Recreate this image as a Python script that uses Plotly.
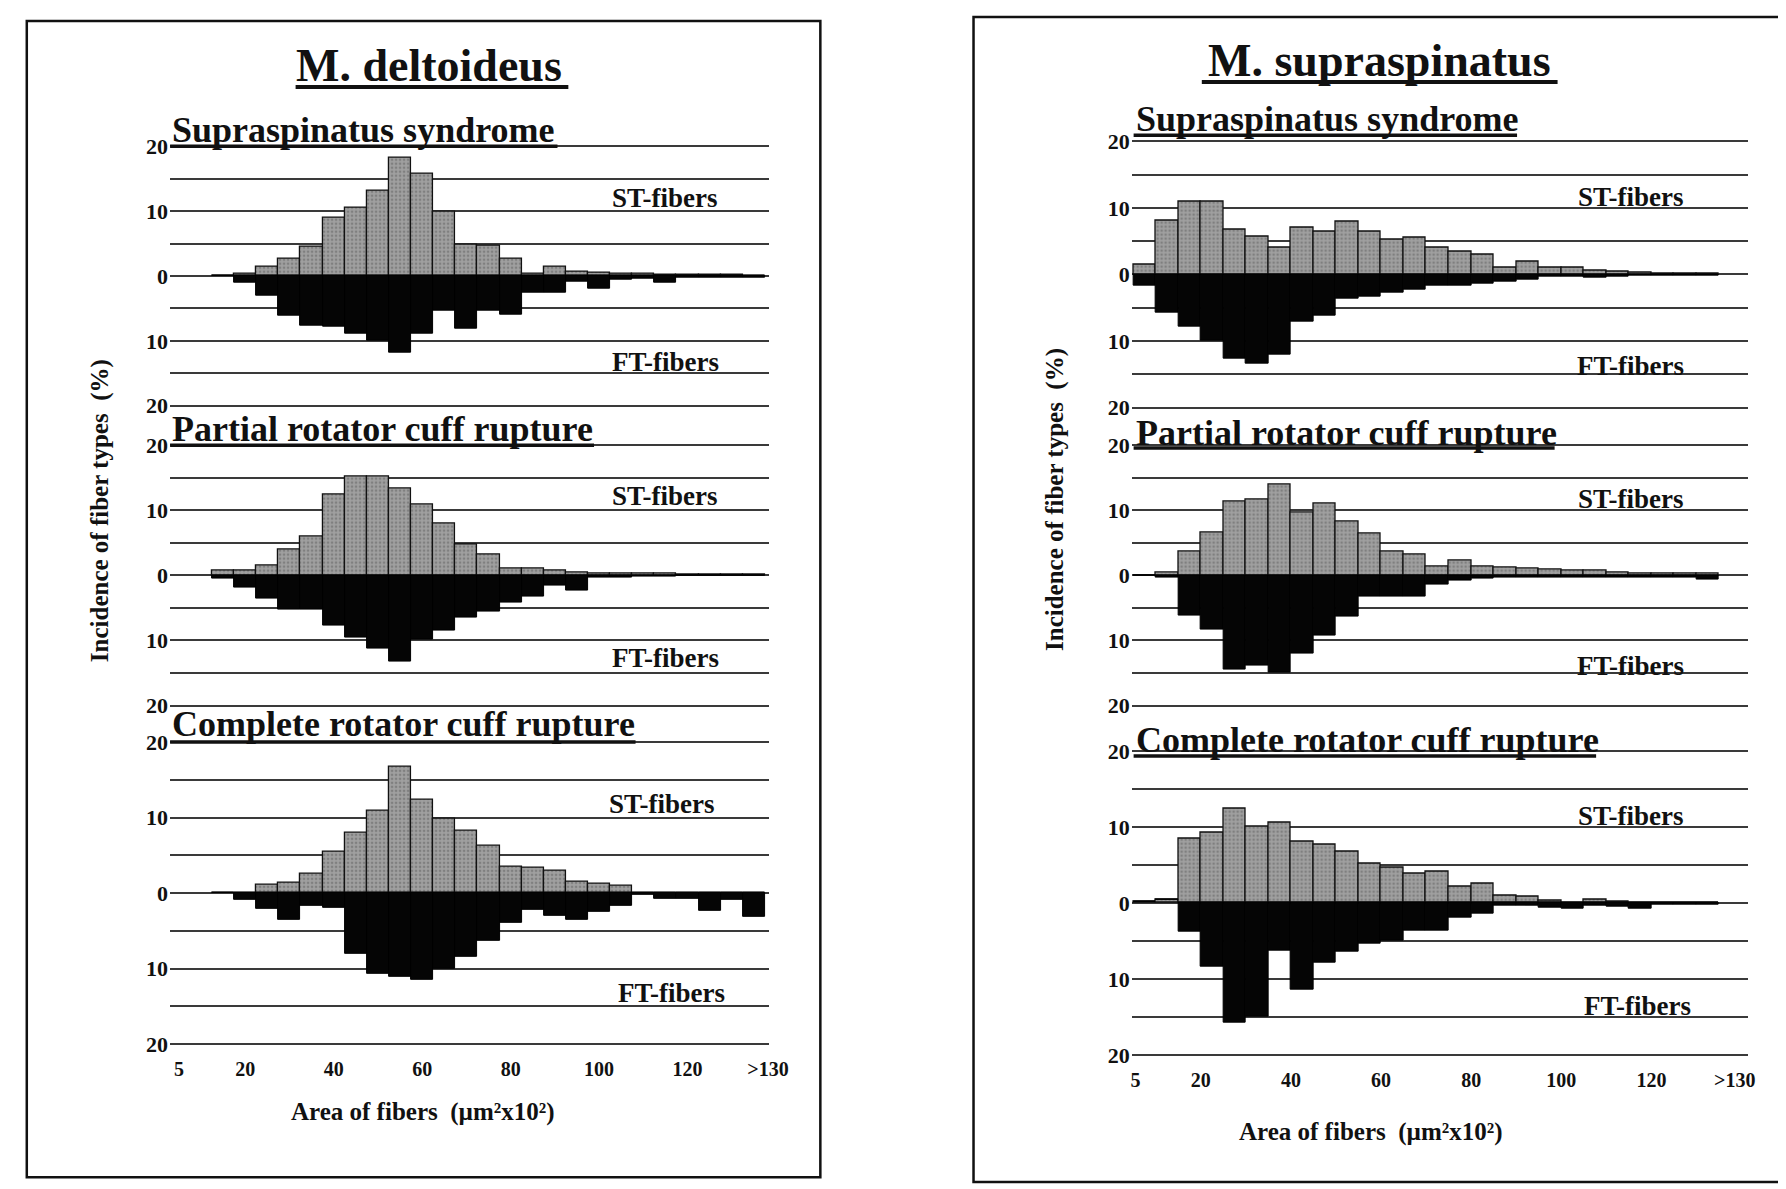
import plotly.graph_objects as go

W, H = 1786, 1189

# ---------------- data ----------------
# M. deltoideus: bin centres (area, um^2 x10^2); last bin = ">130"
delt_bins = [15, 20, 25, 30, 35, 40, 45, 50, 55, 60, 65, 70, 75, 80, 85, 90,
             95, 100, 105, 110, 115, 120, 125, 130, 135]
delt_ss_st = [0, 0.3, 1.4, 2.7, 4.5, 9.0, 10.5, 13.1, 18.2, 15.7, 9.9, 4.8, 4.7, 2.7,
              0.4, 1.4, 0.7, 0.5, 0.3, 0.3, 0.2, 0.2, 0.2, 0.2, 0.1]
delt_ss_ft = [0, 1.0, 3.1, 6.2, 7.7, 7.8, 8.9, 10.0, 11.9, 8.9, 5.3, 8.2, 5.3, 6.0,
              2.6, 2.6, 0.9, 1.9, 0.6, 0.4, 1.1, 0.3, 0.3, 0.2, 0.2]
delt_pr_st = [0.7, 0.8, 1.5, 3.9, 5.9, 12.4, 15.2, 15.1, 13.4, 10.8, 7.9, 4.7, 3.2, 1.0,
              1.0, 0.8, 0.5, 0.3, 0.3, 0.2, 0.2, 0.1, 0.1, 0.1, 0.1]
delt_pr_ft = [0.5, 1.8, 3.5, 5.2, 5.2, 7.7, 9.5, 11.2, 13.2, 9.8, 8.5, 6.5, 5.5, 4.2,
              3.3, 1.5, 2.3, 0.3, 0.3, 0.2, 0.2, 0.1, 0.1, 0.1, 0.1]
delt_cr_st = [0, 0, 1.1, 1.4, 2.5, 5.4, 8.0, 10.9, 16.7, 12.3, 9.8, 8.3, 6.3, 3.5,
              3.3, 3.0, 1.5, 1.2, 0.9, 0, 0, 0, 0, 0, 0]
delt_cr_ft = [0, 0.9, 2.1, 3.6, 1.7, 2.0, 8.0, 10.7, 11.1, 11.5, 10.0, 8.5, 6.3, 3.9,
              2.2, 3.0, 3.6, 2.5, 1.7, 0.3, 0.8, 0.8, 2.3, 0.9, 3.1]

# M. supraspinatus
supra_bins = [7.5, 12.5, 17.5, 22.5, 27.5, 32.5, 37.5, 42.5, 47.5, 52.5, 57.5, 62.5, 67.5,
              72.5, 77.5, 82.5, 87.5, 92.5, 97.5, 102.5, 107.5, 112.5, 117.5, 122.5,
              127.5, 132.5]
supra_ss_st = [1.5, 8.1, 11.0, 10.9, 6.7, 5.7, 4.0, 7.0, 6.4, 8.0, 6.4, 5.2, 5.5, 4.0,
               3.4, 3.0, 1.1, 2.0, 1.1, 1.1, 0.6, 0.5, 0.3, 0.2, 0.2, 0.1]
supra_ss_ft = [1.6, 5.8, 7.9, 9.9, 12.6, 13.4, 12.1, 7.1, 6.2, 3.7, 3.3, 2.8, 2.3, 1.7,
               1.6, 1.4, 1.1, 0.8, 0.3, 0.3, 0.4, 0.3, 0.2, 0.2, 0.1, 0.1]
supra_pr_st = [0, 0.4, 3.7, 6.5, 11.4, 11.7, 14.0, 9.7, 11.1, 8.2, 6.4, 3.7, 3.2, 1.4,
               2.2, 1.4, 1.2, 1.0, 0.9, 0.8, 0.7, 0.5, 0.3, 0.2, 0.2, 0.2]
supra_pr_ft = [0, 0.3, 6.1, 8.4, 14.5, 13.8, 14.9, 12.0, 9.2, 6.3, 3.2, 3.2, 3.2, 1.4,
               0.8, 0.5, 0.4, 0.4, 0.3, 0.3, 0.3, 0.3, 0.3, 0.4, 0.4, 0.6]
supra_cr_st = [0.2, 0.4, 8.5, 9.3, 12.4, 10.0, 10.6, 8.1, 7.7, 6.7, 5.2, 4.7, 3.8, 4.1,
               2.1, 2.5, 1.0, 0.8, 0.35, 0, 0.4, 0.1, 0, 0, 0, 0]
supra_cr_ft = [0, 0, 3.8, 8.4, 15.7, 15.0, 6.3, 11.4, 7.9, 6.4, 5.4, 5.0, 3.7, 3.7,
               1.9, 1.4, 0.4, 0.3, 0.6, 0.7, 0.3, 0.5, 0.7, 0.2, 0.2, 0.2]

x_tickvals_l = [5, 20, 40, 60, 80, 100, 120, 138.2]
x_tickvals_r = [5.5, 20, 40, 60, 80, 100, 120, 138.5]
x_ticktext = ["5", "20", "40", "60", "80", "100", "120", ">130"]
y_tickvals = [-20, -10, 0, 10, 20]
y_ticktext = ["20", "10", "0", "10", "20"]

subtitles = ["Supraspinatus syndrome", "Partial rotator cuff rupture",
             "Complete rotator cuff rupture"]
panel_titles = ["M. deltoideus", "M. supraspinatus"]

FONT = "Liberation Serif"
GRID = "#3a3a3a"

fig = go.Figure()

R = 20.7  # y-range half width


def ydom(top, bot):
    ppu = (bot - top) / 40.0
    t = top - (R - 20) * ppu
    b = bot + (R - 20) * ppu
    return [1 - b / H, 1 - t / H]


panels = [
    dict(bins=delt_bins, xr=[3.0, 138.4], xd=[163 / W, 769 / W], ticks=x_tickvals_l,
         series=[(delt_ss_st, delt_ss_ft), (delt_pr_st, delt_pr_ft), (delt_cr_st, delt_cr_ft)],
         yd=[(132, 395), (435, 699), (736, 1042)]),
    dict(bins=supra_bins, xr=[4.65, 141.5], xd=[1136 / W, 1760 / W], ticks=x_tickvals_r,
         series=[(supra_ss_st, supra_ss_ft), (supra_pr_st, supra_pr_ft), (supra_cr_st, supra_cr_ft)],
         yd=[(127, 397), (435, 699), (745, 1053)]),
]

k = 0
for p in panels:
    for i, (st, ft) in enumerate(p["series"]):
        k += 1
        xa = "x" if k == 1 else f"x{k}"
        ya = "y" if k == 1 else f"y{k}"
        fig.add_trace(go.Bar(
            x=p["bins"], y=st, xaxis=xa, yaxis=ya, width=5,
            marker=dict(color="#9c9c9c", line=dict(color="#111", width=1.3),
                        pattern=dict(shape=".", fgcolor="#5e5e5e", bgcolor="#a0a0a0",
                                     size=4, solidity=0.35)),
            showlegend=False, hoverinfo="skip"))
        fig.add_trace(go.Bar(
            x=p["bins"], y=[-v for v in ft], xaxis=xa, yaxis=ya, width=5,
            marker=dict(color="#050505", line=dict(color="#000", width=1)),
            showlegend=False, hoverinfo="skip"))
        bottom = (i == 2)
        xkey = "xaxis" if k == 1 else f"xaxis{k}"
        ykey = "yaxis" if k == 1 else f"yaxis{k}"
        fig.layout[xkey] = dict(
            domain=p["xd"], range=p["xr"], anchor=ya, showgrid=False, zeroline=False,
            showline=False, tickmode="array", tickvals=p["ticks"], ticktext=x_ticktext,
            showticklabels=bottom, ticks="", ticklabelstandoff=6,
            tickfont=dict(family=FONT, size=20, color="#111", weight="bold"))
        fig.layout[ykey] = dict(
            domain=ydom(*p["yd"][i]), range=[-R, R], anchor=xa, showline=False,
            zeroline=False, tickmode="array", tickvals=y_tickvals, ticktext=y_ticktext,
            showgrid=True, gridcolor=GRID, gridwidth=2.2, ticks="",
            minor=dict(tickvals=[-15, -5, 5, 15], showgrid=True, gridcolor=GRID, gridwidth=2.2),
            tickfont=dict(family=FONT, size=22, color="#111", weight="bold"),
            ticklabelstandoff=1)

shapes = []
annotations = []

# panel frames
shapes.append(dict(type="rect", xref="paper", yref="paper", x0=18 / W, x1=821 / W,
                   y0=1 - 1177 / H, y1=1 - 5 / H, line=dict(color="#111", width=2.5)))
shapes.append(dict(type="rect", xref="paper", yref="paper", x0=976 / W, x1=1800 / W,
                   y0=1 - 1182 / H, y1=1 - 1 / H, line=dict(color="#111", width=2.5)))


def txt(x, y, s, size, anchor="center", angle=0):
    annotations.append(dict(x=x / W, y=1 - y / H, xref="paper", yref="paper", text=s,
                            showarrow=False, xanchor=anchor, yanchor="middle", textangle=angle,
                            font=dict(family=FONT, size=size, color="#111", weight="bold")))


def uline(x0, x1, y, w=3.5):
    shapes.append(dict(type="line", xref="paper", yref="paper", x0=x0 / W, x1=x1 / W,
                       y0=1 - y / H, y1=1 - y / H, line=dict(color="#111", width=w)))


# panel titles
txt(425, 50, panel_titles[0], 46)
uline(290, 566, 72, 4)
txt(1387, 45, panel_titles[1], 46)
uline(1207, 1567, 67, 4)

# subtitles (left-aligned)
sub_pos_l = [(163, 116, 555, 132), (163, 419, 592, 435), (163, 718, 634, 736)]
sub_pos_r = [(1138, 104, 1526, 121), (1138, 423, 1564, 438), (1138, 734, 1606, 750)]
for (x, y, xe, yu), s in zip(sub_pos_l, subtitles):
    txt(x, y, s, 36, anchor="left")
    uline(x, xe, yu)
for (x, y, xe, yu), s in zip(sub_pos_r, subtitles):
    txt(x, y, s, 36, anchor="left")
    uline(x, xe, yu)

# ST / FT labels
for (x, y) in [(664, 184), (664, 487), (661, 799)]:
    txt(x, y, "ST-fibers", 27)
for (x, y) in [(664, 351), (664, 651), (670, 990)]:
    txt(x, y, "FT-fibers", 27)
for (x, y) in [(1641, 183), (1641, 490), (1641, 811)]:
    txt(x, y, "ST-fibers", 27)
for (x, y) in [(1641, 355), (1641, 659), (1648, 1003)]:
    txt(x, y, "FT-fibers", 27)

# axis titles
txt(419, 1111, "Area of fibers  (µm²x10²)", 25)
txt(1378, 1131, "Area of fibers  (µm²x10²)", 25)
txt(92, 501, "Incidence of fiber types  (%)", 25, angle=-90)
txt(1059, 490, "Incidence of fiber types  (%)", 25, angle=-90)

fig.update_layout(
    width=W, height=H, margin=dict(l=0, r=0, t=0, b=0),
    paper_bgcolor="white", plot_bgcolor="rgba(0,0,0,0)",
    barmode="relative", bargap=0,
    shapes=shapes, annotations=annotations,
)

fig.write_html("out.html")
